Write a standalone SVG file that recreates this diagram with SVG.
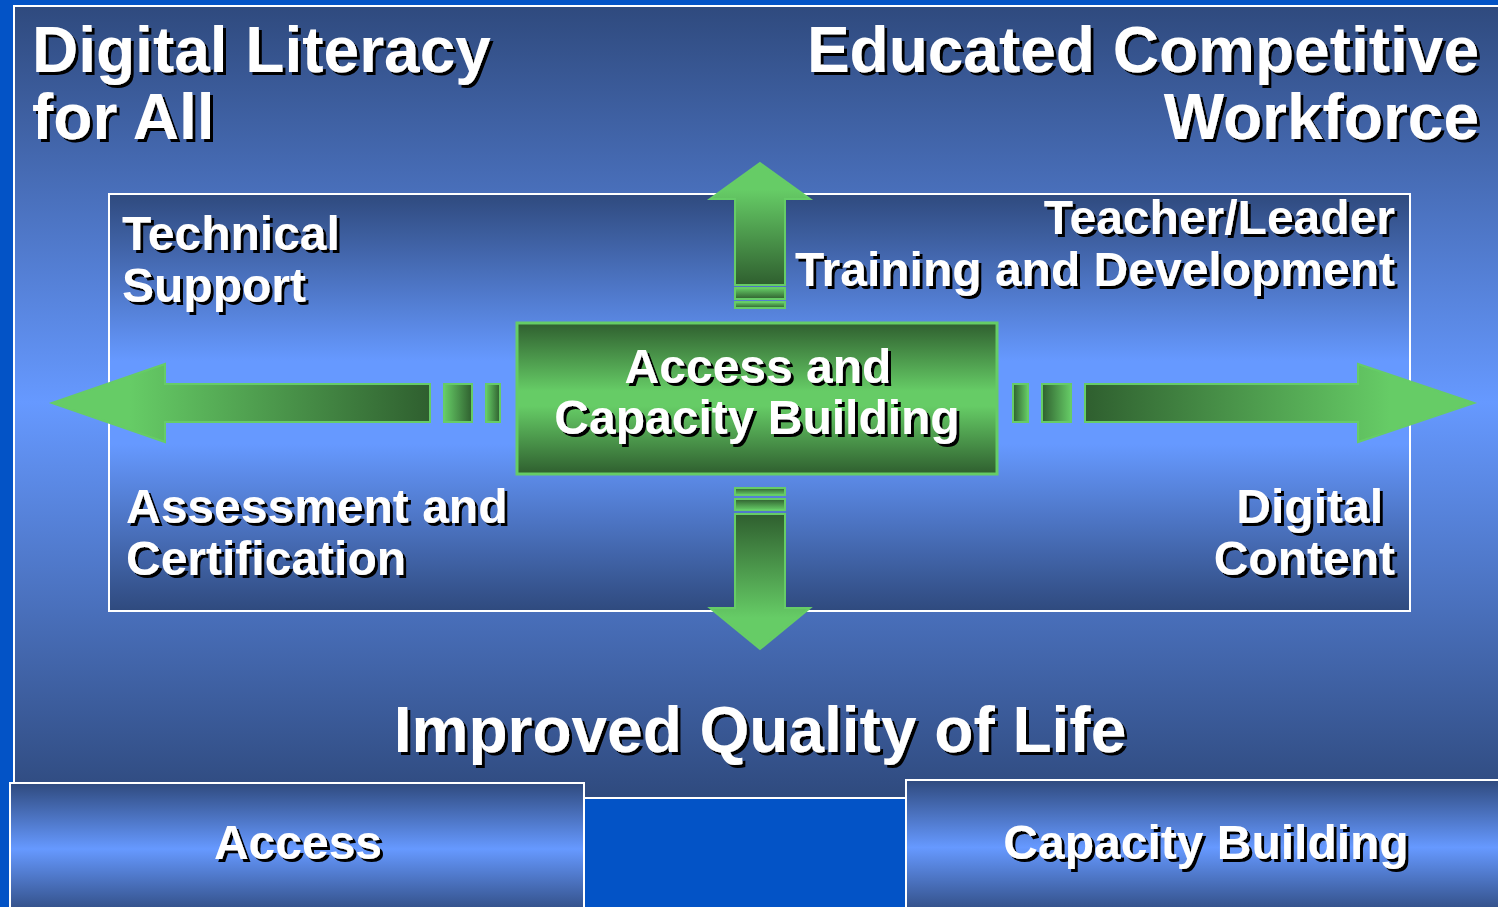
<svg xmlns="http://www.w3.org/2000/svg" width="1498" height="907" viewBox="0 0 1498 907">
<defs>
  <linearGradient id="gPanel" gradientUnits="userSpaceOnUse" x1="0" y1="6" x2="0" y2="798">
    <stop offset="0" stop-color="#2f4a7e"/>
    <stop offset="0.5" stop-color="#6699ff"/>
    <stop offset="1" stop-color="#2f4a7e"/>
  </linearGradient>
  <linearGradient id="gInner" gradientUnits="userSpaceOnUse" x1="0" y1="194" x2="0" y2="611">
    <stop offset="0" stop-color="#2f4a7e"/>
    <stop offset="0.4" stop-color="#6699ff"/>
    <stop offset="0.6" stop-color="#6699ff"/>
    <stop offset="1" stop-color="#2f4a7e"/>
  </linearGradient>
  <linearGradient id="gBox" x1="0" y1="0" x2="0" y2="1">
    <stop offset="0" stop-color="#2f4a7e"/>
    <stop offset="0.5" stop-color="#6699ff"/>
    <stop offset="1" stop-color="#2f4a7e"/>
  </linearGradient>
  <linearGradient id="gGreen" x1="0" y1="0" x2="0" y2="1">
    <stop offset="0" stop-color="#2f5f2f"/>
    <stop offset="0.45" stop-color="#66cc66"/>
    <stop offset="0.55" stop-color="#66cc66"/>
    <stop offset="1" stop-color="#2f5f2f"/>
  </linearGradient>
  <linearGradient id="gLR" x1="0" y1="0" x2="1" y2="0">
    <stop offset="0" stop-color="#66cc66"/>
    <stop offset="1" stop-color="#2f5f2f"/>
  </linearGradient>
  <linearGradient id="gRL" x1="1" y1="0" x2="0" y2="0">
    <stop offset="0" stop-color="#66cc66"/>
    <stop offset="1" stop-color="#2f5f2f"/>
  </linearGradient>
  <linearGradient id="gTB" x1="0" y1="0" x2="0" y2="1">
    <stop offset="0" stop-color="#66cc66"/>
    <stop offset="1" stop-color="#2f5f2f"/>
  </linearGradient>
  <linearGradient id="gBT" x1="0" y1="1" x2="0" y2="0">
    <stop offset="0" stop-color="#66cc66"/>
    <stop offset="1" stop-color="#2f5f2f"/>
  </linearGradient>
  <linearGradient id="gArrL" gradientUnits="userSpaceOnUse" x1="130" y1="0" x2="430" y2="0">
    <stop offset="0" stop-color="#66cc66"/>
    <stop offset="1" stop-color="#2f5f2f"/>
  </linearGradient>
  <linearGradient id="gArrR" gradientUnits="userSpaceOnUse" x1="1390" y1="0" x2="1085" y2="0">
    <stop offset="0" stop-color="#66cc66"/>
    <stop offset="1" stop-color="#2f5f2f"/>
  </linearGradient>
  <linearGradient id="gArrU" gradientUnits="userSpaceOnUse" x1="0" y1="190" x2="0" y2="285">
    <stop offset="0" stop-color="#66cc66"/>
    <stop offset="1" stop-color="#2f5f2f"/>
  </linearGradient>
  <linearGradient id="gArrD" gradientUnits="userSpaceOnUse" x1="0" y1="618" x2="0" y2="514">
    <stop offset="0" stop-color="#66cc66"/>
    <stop offset="1" stop-color="#2f5f2f"/>
  </linearGradient>
  <filter id="shadow" x="-10%" y="-20%" width="120%" height="150%">
    <feDropShadow dx="3" dy="3" stdDeviation="0.4" flood-color="#000000" flood-opacity="1"/>
  </filter>
</defs>
<style>
  text { font-family: "Liberation Sans", Arial, sans-serif; font-weight: bold; fill: #ffffff; filter: url(#shadow); }
  .title { font-size: 64px; }
  .lbl { font-size: 48px; }
  .frame { stroke: #ffffff; stroke-width: 2; }
  .arrow { stroke: #66cc66; stroke-width: 2; }
</style>
<rect x="0" y="0" width="1498" height="907" fill="#0353c6"/>
<g id="panel">
  <rect x="14" y="6" width="1500" height="792" fill="url(#gPanel)" class="frame"/>
</g>
<g id="titles">
  <text class="title" x="32" y="72">Digital Literacy</text>
  <text class="title" x="32" y="139">for All</text>
  <text class="title" x="1479" y="72" text-anchor="end">Educated Competitive</text>
  <text class="title" x="1479" y="139" text-anchor="end">Workforce</text>
</g>
<g id="inner-frame">
  <rect x="109" y="194" width="1301" height="417" fill="url(#gInner)" class="frame"/>
</g>
<g id="technical-support">
  <text class="lbl" x="122" y="250">Technical</text>
  <text class="lbl" x="122" y="302">Support</text>
</g>
<g id="teacher-leader">
  <text class="lbl" x="1395" y="234" text-anchor="end">Teacher/Leader</text>
  <text class="lbl" x="1395" y="286" text-anchor="end">Training and Development</text>
</g>
<g id="assessment">
  <text class="lbl" x="126" y="523">Assessment and</text>
  <text class="lbl" x="126" y="575">Certification</text>
</g>
<g id="digital-content">
  <text class="lbl" x="1383" y="523" text-anchor="end">Digital</text>
  <text class="lbl" x="1395" y="575" text-anchor="end">Content</text>
</g>
<g id="connectors">
  <polygon class="arrow" fill="url(#gArrL)" points="52,403 165,364 165,384 430,384 430,422 165,422 165,442"/>
  <rect class="arrow" fill="url(#gLR)" x="444" y="384" width="28" height="38"/>
  <rect class="arrow" fill="url(#gLR)" x="486" y="384" width="14" height="38"/>
  <polygon class="arrow" fill="url(#gArrR)" points="1474,403 1358,364 1358,384 1085,384 1085,422 1358,422 1358,442"/>
  <rect class="arrow" fill="url(#gRL)" x="1042" y="384" width="29" height="38"/>
  <rect class="arrow" fill="url(#gRL)" x="1013" y="384" width="15" height="38"/>
  <polygon class="arrow" fill="url(#gArrU)" points="760,163 810,199 785,199 785,285 735,285 735,199 710,199"/>
  <rect class="arrow" fill="url(#gTB)" x="735" y="288" width="50" height="11"/>
  <rect class="arrow" fill="url(#gTB)" x="735" y="302" width="50" height="6"/>
  <polygon class="arrow" fill="url(#gArrD)" points="760,649 810,608 785,608 785,514 735,514 735,608 710,608"/>
  <rect class="arrow" fill="url(#gBT)" x="735" y="499" width="50" height="11"/>
  <rect class="arrow" fill="url(#gBT)" x="735" y="488" width="50" height="7"/>
</g>
<g id="center-box">
  <rect x="517" y="323" width="480" height="151" fill="url(#gGreen)" stroke="#66cc66" stroke-width="3"/>
  <text class="lbl" x="758" y="383" text-anchor="middle">Access and</text>
  <text class="lbl" x="757" y="434" text-anchor="middle">Capacity Building</text>
</g>
<g id="quality">
  <text class="title" x="760" y="752" text-anchor="middle">Improved Quality of Life</text>
</g>
<g id="access-box">
  <rect x="10" y="783" width="574" height="132" fill="url(#gBox)" class="frame"/>
  <text class="lbl" x="298" y="859" text-anchor="middle">Access</text>
</g>
<g id="capacity-box">
  <rect x="906" y="780" width="600" height="135" fill="url(#gBox)" class="frame"/>
  <text class="lbl" x="1206" y="859" text-anchor="middle">Capacity Building</text>
</g>
</svg>
